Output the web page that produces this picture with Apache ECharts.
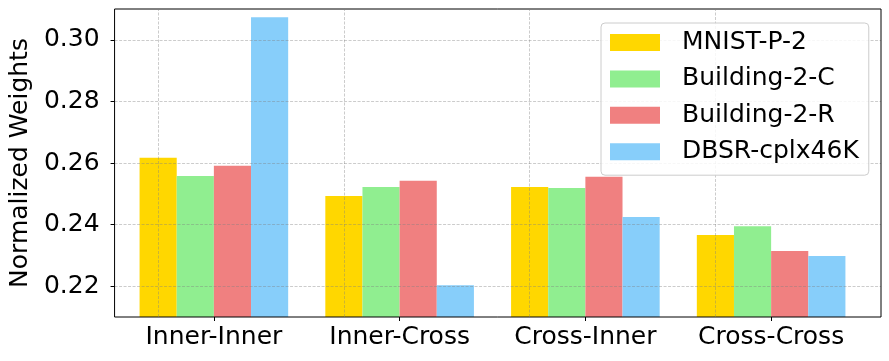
<!DOCTYPE html>
<html>
<head>
<meta charset="utf-8">
<script src="https://cdn.jsdelivr.net/npm/echarts@6/dist/echarts.min.js"></script>
<style>
  html, body { margin: 0; padding: 0; background: #fff; }
  #chart { width: 889px; height: 361px; }
</style>
</head>
<body>
<div id="chart"></div>
<script>
// 数据
const categories = ['Inner-Inner', 'Inner-Cross', 'Cross-Inner', 'Cross-Cross']
const mnistP2 = [0.2617, 0.2493, 0.2522, 0.2366]
const building2C = [0.2558, 0.2522, 0.2519, 0.2395]
const building2R = [0.2591, 0.2542, 0.2555, 0.2314]
const dbsrCplx46K = [0.3073, 0.2203, 0.2425, 0.2298]
const yTicks = [0.22, 0.24, 0.26, 0.28, 0.30]
const yMin = 0.21
const yMax = 0.31

const font = 'DejaVu Sans'
const fontSize = 25
const gridLine = {
  color: 'rgba(128,128,128,0.5)',
  width: 0.8,
  type: [3, 1.5]
}

const myChart = echarts.init(document.getElementById('chart'), null, { renderer: 'canvas' })

function barSeries(name, data, color, withGrid) {
  const s = {
    name: name,
    type: 'bar',
    xAxisIndex: 1,
    yAxisIndex: 1,
    barWidth: '20%',
    barGap: '0%',
    data: data,
    itemStyle: { color: color },
    emphasis: { disabled: true }
  }
  if (withGrid) {
    // 竖向网格线（分类中心）
    s.markLine = {
      silent: true,
      symbol: 'none',
      label: { show: false },
      lineStyle: gridLine,
      emphasis: { disabled: true },
      data: categories.map(c => ({ xAxis: c }))
    }
  }
  return s
}

myChart.setOption({
  animation: false,
  textStyle: { fontFamily: font },
  grid: [
    // 外框
    {
      show: true,
      z: 5,
      left: 105,
      right: 8,
      top: 9,
      bottom: 44,
      borderColor: '#000',
      borderWidth: 1,
      backgroundColor: 'transparent'
    },
    // 柱子区域
    {
      left: 121,
      right: 25,
      top: 9,
      bottom: 44
    }
  ],
  legend: {
    orient: 'vertical',
    left: 601,
    top: 23,
    z: 10,
    icon: 'rect',
    itemWidth: 50,
    itemHeight: 17,
    itemGap: 11.4,
    padding: [7, 10, 11, 9],
    backgroundColor: 'rgba(255,255,255,0.85)',
    borderColor: '#cccccc',
    borderWidth: 1,
    borderRadius: 4,
    selectedMode: false,
    textStyle: {
      fontFamily: font,
      fontSize: fontSize,
      lineHeight: 25,
      color: '#000',
      padding: [0, 0, 0, 17]
    },
    data: ['MNIST-P-2', 'Building-2-C', 'Building-2-R', 'DBSR-cplx46K']
  },
  xAxis: [
    {
      gridIndex: 0,
      type: 'category',
      data: categories,
      show: false
    },
    {
      gridIndex: 1,
      type: 'category',
      data: categories,
      axisLine: { show: false },
      axisTick: {
        show: true,
        alignWithLabel: true,
        interval: 0,
        length: 4,
        lineStyle: { color: '#000', width: 1 }
      },
      axisLabel: {
        interval: 0,
        hideOverlap: false,
        fontFamily: font,
        fontSize: fontSize,
        color: '#000',
        margin: 8
      },
      splitLine: { show: false }
    }
  ],
  yAxis: [
    {
      gridIndex: 0,
      type: 'value',
      min: yMin,
      max: yMax,
      z: 4,
      name: 'Normalized Weights',
      nameLocation: 'middle',
      nameRotate: 90,
      nameGap: 74,
      nameTextStyle: { fontFamily: font, fontSize: fontSize, color: '#000' },
      axisLine: { show: false },
      axisTick: {
        show: true,
        length: 4,
        customValues: yTicks,
        lineStyle: { color: '#000', width: 1 }
      },
      axisLabel: {
        customValues: yTicks,
        fontFamily: font,
        fontSize: fontSize,
        color: '#000',
        margin: 15,
        formatter: v => v.toFixed(2)
      },
      splitLine: { show: true, lineStyle: gridLine }
    },
    {
      gridIndex: 1,
      type: 'value',
      min: yMin,
      max: yMax,
      show: false,
      splitLine: { show: false }
    }
  ],
  series: [
    barSeries('MNIST-P-2', mnistP2, '#FFD700', true),
    barSeries('Building-2-C', building2C, '#90EE90', false),
    barSeries('Building-2-R', building2R, '#F08080', false),
    barSeries('DBSR-cplx46K', dbsrCplx46K, '#87CEFA', false)
  ]
})
</script>
</body>
</html>
